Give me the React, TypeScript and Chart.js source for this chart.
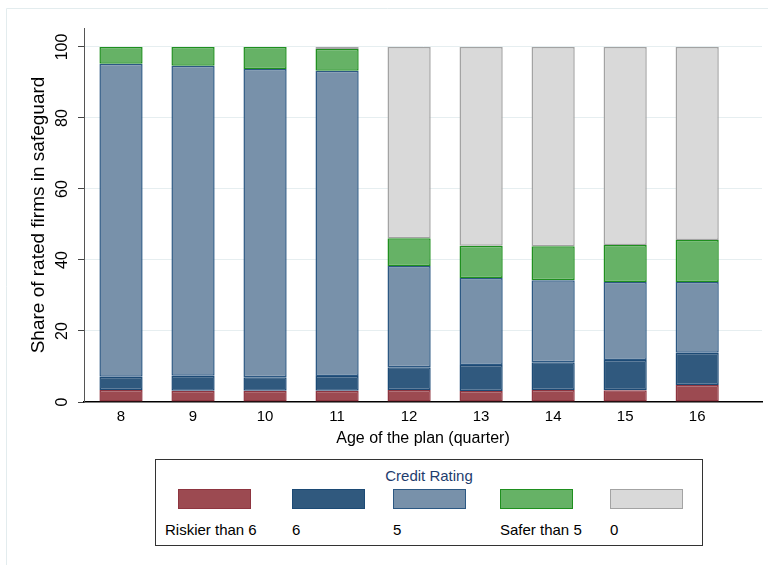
import React, { useEffect, useRef } from 'react';
import { Chart, registerables } from 'chart.js';

Chart.register(...registerables);

const quarters = [8, 9, 10, 11, 12, 13, 14, 15, 16];
const riskier = [3.4, 3.2, 3.2, 3.2, 3.4, 3.1, 3.4, 3.3, 4.8];
const rating6 = [3.7, 4.2, 3.8, 4.1, 6.4, 7.3, 7.8, 8.5, 9.1];
const rating5 = [88.2, 87.3, 86.8, 86.0, 28.5, 24.5, 23.1, 22.0, 19.9];
const safer = [4.7, 5.3, 6.2, 6.1, 7.8, 9.1, 9.6, 10.4, 11.8];
const unrated = [0, 0, 0, 0.6, 53.9, 56.0, 56.1, 55.8, 54.4];
const yTicks = [0, 20, 40, 60, 80, 100];
const seriesLabels = ['Riskier than 6', '6', '5', 'Safer than 5', '0'];
const seriesValues = [riskier, rating6, rating5, safer, unrated];
const fills = ['#9c4a51', '#30597e', '#7891aa', '#66b266', '#d9d9d9'];
const borders = ['#8e3540', '#1c4a75', '#2c5883', '#1f8f1f', '#a3a3a3'];

const FONT = '"Liberation Sans", Arial, Helvetica, sans-serif';

const framePlugin = {
  id: 'frame',
  beforeDraw(chart: any) {
    const ctx = chart.ctx;
    ctx.save();
    ctx.strokeStyle = '#e3ecee';
    ctx.lineWidth = 1;
    ctx.beginPath();
    ctx.moveTo(6.5, 565);
    ctx.lineTo(6.5, 8.5);
    ctx.lineTo(768, 8.5);
    ctx.stroke();
    ctx.restore();
  },
  afterDraw(chart: any) {
    const ctx = chart.ctx;
    const y = chart.scales.y;
    ctx.save();
    ctx.font = `16px ${FONT}`;
    ctx.fillStyle = '#000';
    ctx.textAlign = 'center';
    ctx.textBaseline = 'middle';
    yTicks.forEach((v) => {
      const py = y.getPixelForValue(v);
      ctx.save();
      ctx.translate(63, py);
      ctx.rotate(-Math.PI / 2);
      ctx.fillText(String(v), 0, 0);
      ctx.restore();
    });
    ctx.restore();
  },
};

export default function App() {
  const ref = useRef<HTMLCanvasElement | null>(null);

  useEffect(() => {
    if (!ref.current) return;
    const chart = new Chart(ref.current, {
      type: 'bar',
      data: {
        datasets: seriesValues.map((vals, k) => ({
          label: seriesLabels[k],
          data: quarters.map((q, i) => ({ x: q, y: vals[i] })),
          backgroundColor: fills[k],
          borderColor: borders[k],
          borderWidth: 1.5,
          borderSkipped: false,
          barPercentage: 0.6,
          categoryPercentage: 1,
        })),
      },
      options: {
        animation: false,
        responsive: false,
        maintainAspectRatio: false,
        layout: { padding: { left: 0, right: 6, top: 28, bottom: 113 } },
        plugins: {
          legend: { display: false },
          tooltip: { enabled: false },
        },
        scales: {
          x: {
            type: 'linear',
            stacked: true,
            offset: false,
            min: 7.486,
            max: 16.9,
            afterBuildTicks: (s: any) => {
              s.ticks = quarters.map((v) => ({ value: v }));
            },
            afterFit: (s: any) => {
              s.height = 50;
            },
            grid: { display: false, drawTicks: false },
            border: { display: true, color: '#000', width: 1.5 },
            ticks: {
              font: { family: FONT, size: 15 },
              color: '#000',
              padding: 6,
              maxRotation: 0,
              autoSkip: false,
              callback: (v: any) => String(v),
            },
            title: {
              display: true,
              text: 'Age of the plan (quarter)',
              font: { family: FONT, size: 16 },
              color: '#000',
              padding: { top: 0, bottom: 4 },
            },
          },
          y: {
            stacked: true,
            min: 0,
            max: 105.35,
            afterBuildTicks: (s: any) => {
              s.ticks = yTicks.map((v) => ({ value: v }));
            },
            afterFit: (s: any) => {
              s.width = 84;
            },
            grid: {
              color: (c: any) => (c.tick && c.tick.value === 0 ? 'rgba(0,0,0,0)' : '#e6eef0'),
              lineWidth: 1,
              drawTicks: true,
              tickLength: 6,
              tickColor: '#444',
            },
            border: { display: true, color: '#555', width: 1 },
            ticks: { display: false },
            title: {
              display: true,
              text: 'Share of rated firms in safeguard',
              font: { family: FONT, size: 19 },
              color: '#000',
              padding: { top: 27, bottom: 0 },
            },
          },
        },
      },
      plugins: [framePlugin],
    } as any);
    return () => chart.destroy();
  }, []);

  const boxLeft = 155;
  const boxTop = 459;
  const swatchLeft = [22, 136, 237, 344, 454];
  const labelLeft = [9, 136, 237, 344, 454];

  return (
    <div style={{ position: 'fixed', left: 0, top: 0, width: 768, height: 565, background: '#fff' }}>
      <canvas ref={ref} width={768} height={565} style={{ position: 'absolute', left: 0, top: 0, width: 768, height: 565 }} />
      <div
        style={{
          position: 'absolute',
          left: boxLeft,
          top: boxTop,
          width: 548,
          height: 87,
          boxSizing: 'border-box',
          border: '1px solid #333',
          background: '#fff',
          fontFamily: FONT,
        }}
      >
        <div
          style={{
            position: 'absolute',
            left: 0,
            width: '100%',
            top: 7,
            textAlign: 'center',
            fontSize: 15,
            color: '#1e3d6e',
            lineHeight: '18px',
          }}
        >
          Credit Rating
        </div>
        {seriesLabels.map((lab, k) => (
          <React.Fragment key={lab}>
            <div
              style={{
                position: 'absolute',
                left: swatchLeft[k],
                top: 29,
                width: 73,
                height: 20,
                boxSizing: 'border-box',
                background: fills[k],
                border: `1.5px solid ${borders[k]}`,
              }}
            />
            <div
              style={{
                position: 'absolute',
                left: labelLeft[k],
                top: 61,
                fontSize: 15,
                lineHeight: '18px',
                color: '#000',
                whiteSpace: 'nowrap',
              }}
            >
              {lab}
            </div>
          </React.Fragment>
        ))}
      </div>
    </div>
  );
}
